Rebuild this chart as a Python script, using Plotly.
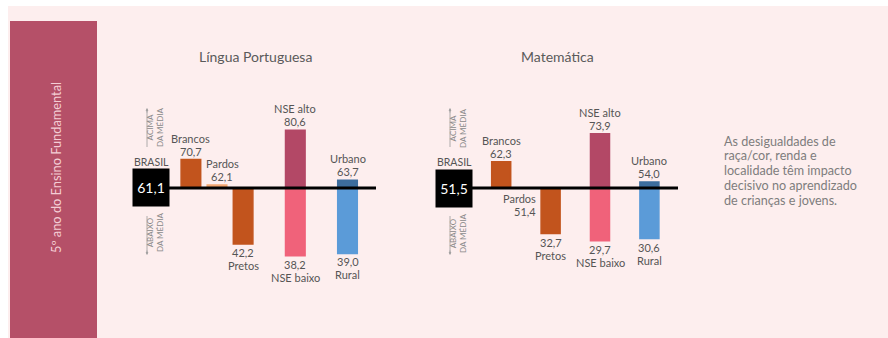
import plotly.graph_objects as go

W, H = 888, 338

# ---------------- data ----------------
GROUP_SLOTS = ["Brancos", "Pardos", "Pretos", "_g1", "NSE", "_g2", "Localidade"]
BAR_NAMES = ["Brancos", "Pardos", "Pretos", "NSE alto", "NSE baixo", "Urbano", "Rural"]
BAR_SLOTS = ["Brancos", "Pardos", "Pretos", "NSE", "NSE", "Localidade", "Localidade"]
VALUES_LP = [70.7, 62.1, 42.2, 80.6, 38.2, 63.7, 39.0]
VALUES_MT = [62.3, 51.4, 32.7, 73.9, 29.7, 54.0, 30.6]
BRASIL_LP = 61.1
BRASIL_MT = 51.5
TITLES = ["Língua Portuguesa", "Matemática"]
SIDE_LABEL = "5º ano do Ensino Fundamental"
NOTE_LINES = ["As desigualdades de", "raça/cor, renda e", "localidade têm impacto",
              "decisivo no aprendizado", "de crianças e jovens."]

# ---------------- style ----------------
BAR_COLORS = ["#c2541d", "#f3a770", "#c2541d", "#b34866", "#f0627a", "#3d6d9d", "#5b9bd8"]
BG_PINK = "#fdeeee"
SIDE_RED = "#b55068"
FONT = "Lato"
TXT = "#555555"


def X(px):
    return px / W


def Y(py):
    return 1 - py / H


def fmt(v):
    return f"{v:.1f}".replace(".", ",")


fig = go.Figure()

panels = [
    dict(vals=VALUES_LP, base=BRASIL_LP, xa="x", ya="y", width=0.75),
    dict(vals=VALUES_MT, base=BRASIL_MT, xa="x2", ya="y2", width=0.77),
]

for p in panels:
    fig.add_trace(go.Bar(
        x=BAR_SLOTS,
        y=[v - p["base"] for v in p["vals"]],
        base=p["base"],
        width=p["width"],
        marker=dict(color=BAR_COLORS, line=dict(color=BAR_COLORS, width=1.5)),
        xaxis=p["xa"], yaxis=p["ya"],
        hoverinfo="skip", showlegend=False,
    ))

shapes = [
    dict(type="rect", xref="paper", yref="paper", x0=X(8), x1=1, y0=0, y1=Y(6),
         fillcolor=BG_PINK, line=dict(width=0), layer="below"),
    dict(type="rect", xref="paper", yref="paper", x0=X(10), x1=X(97), y0=0, y1=Y(21),
         fillcolor=SIDE_RED, line=dict(width=0), layer="below"),
    dict(type="line", xref="paper", yref="y", x0=X(140), x1=X(376), y0=BRASIL_LP, y1=BRASIL_LP,
         line=dict(color="#000", width=3), layer="above"),
    dict(type="line", xref="paper", yref="y2", x0=X(443), x1=X(678), y0=BRASIL_MT, y1=BRASIL_MT,
         line=dict(color="#000", width=3), layer="above"),
]

ann = []


def txt(x, y, text, size, color, **kw):
    d = dict(xref="paper", yref="paper", x=x, y=y, text=text, showarrow=False,
             xanchor="center", yanchor="middle",
             font=dict(family=FONT, size=size, color=color))
    d.update(kw)
    ann.append(d)


txt(X(56), Y(167), SIDE_LABEL, 12.8, "#f4cdd5", textangle=-90)
txt(X(255), Y(57), TITLES[0], 14, "#5a5a5a")
txt(X(557), Y(57), TITLES[1], 14, "#5a5a5a")
for i, line in enumerate(NOTE_LINES):
    txt(X(722), Y(141 + 14.8 * i), line, 12.6, "#7d7d7d", xanchor="left")

for p, bx in zip(panels, [151, 454]):
    yref = p["ya"]
    ann.append(dict(xref="paper", yref=yref, x=X(bx), y=p["base"], text=fmt(p["base"]),
                    showarrow=False, bgcolor="#000", width=36, height=37, borderpad=0,
                    xanchor="center", yanchor="middle",
                    font=dict(family=FONT, size=14, color="#ffffff")))
    txt(X(bx), Y(162), "BRASIL", 10.5, TXT)
    txt(X(bx + 4), Y(128), "ACIMA<br>DA MÉDIA", 8, "#8a8a8a", textangle=-90)
    txt(X(bx + 4), Y(233), "ABAIXO<br>DA MÉDIA", 8, "#8a8a8a", textangle=-90)
    shapes.append(dict(type="line", xref="paper", yref="paper", x0=X(bx - 4), x1=X(bx - 4),
                       y0=Y(110), y1=Y(147), line=dict(color="#9a9a9a", width=0.8)))
    shapes.append(dict(type="line", xref="paper", yref="paper", x0=X(bx - 4), x1=X(bx - 4),
                       y0=Y(216), y1=Y(253), line=dict(color="#9a9a9a", width=0.8)))
    ann.append(dict(xref="paper", yref="paper", x=X(bx - 4), y=Y(108), ax=0, ay=6, text="",
                    showarrow=True, arrowhead=2, arrowsize=0.7, arrowwidth=0.8, arrowcolor="#9a9a9a"))
    ann.append(dict(xref="paper", yref="paper", x=X(bx - 4), y=Y(255), ax=0, ay=-6, text="",
                    showarrow=True, arrowhead=2, arrowsize=0.7, arrowwidth=0.8, arrowcolor="#9a9a9a"))

    for name, slot, v in zip(BAR_NAMES, BAR_SLOTS, p["vals"]):
        diff = v - p["base"]
        common = dict(xref=p["xa"], yref=yref, x=slot, y=v, showarrow=False, borderpad=0,
                      font=dict(family=FONT, size=11, color=TXT))
        if diff > 0:
            xs = 5 if name == "Pardos" else 0
            ann.append(dict(common, text=fmt(v), yanchor="bottom", yshift=1, xshift=xs))
            ann.append(dict(common, text=name, yanchor="bottom", yshift=14, xshift=xs))
        elif abs(diff) < 0.5:
            ann.append(dict(common, text=name, yanchor="top", yshift=-3,
                            xanchor="right", xshift=11))
            ann.append(dict(common, text=fmt(v), yanchor="top", yshift=-16,
                            xanchor="right", xshift=11))
        else:
            ann.append(dict(common, text=fmt(v), yanchor="top", yshift=-1))
            ann.append(dict(common, text=name, yanchor="top", yshift=-14))

axis_common = dict(visible=False, showgrid=False, zeroline=False, fixedrange=True)

fig.update_layout(
    width=W, height=H,
    margin=dict(l=0, r=0, t=0, b=0),
    paper_bgcolor="#ffffff",
    plot_bgcolor="rgba(0,0,0,0)",
    barmode="overlay",
    showlegend=False,
    shapes=shapes,
    annotations=ann,
    xaxis=dict(domain=[X(177.85), X(360.55)], type="category", categoryorder="array",
               categoryarray=GROUP_SLOTS, range=[-0.5, 6.5], anchor="y", **axis_common),
    yaxis=dict(domain=[0, 1], range=[10.42, 124.6], anchor="x", **axis_common),
    xaxis2=dict(domain=[X(488.85), X(661.75)], type="category", categoryorder="array",
                categoryarray=GROUP_SLOTS, range=[-0.5, 6.5], anchor="y2", **axis_common),
    yaxis2=dict(domain=[0, 1], range=[-10.48, 129.19], anchor="x2", **axis_common),
)

fig.write_html("out.html", config={"displayModeBar": False})
